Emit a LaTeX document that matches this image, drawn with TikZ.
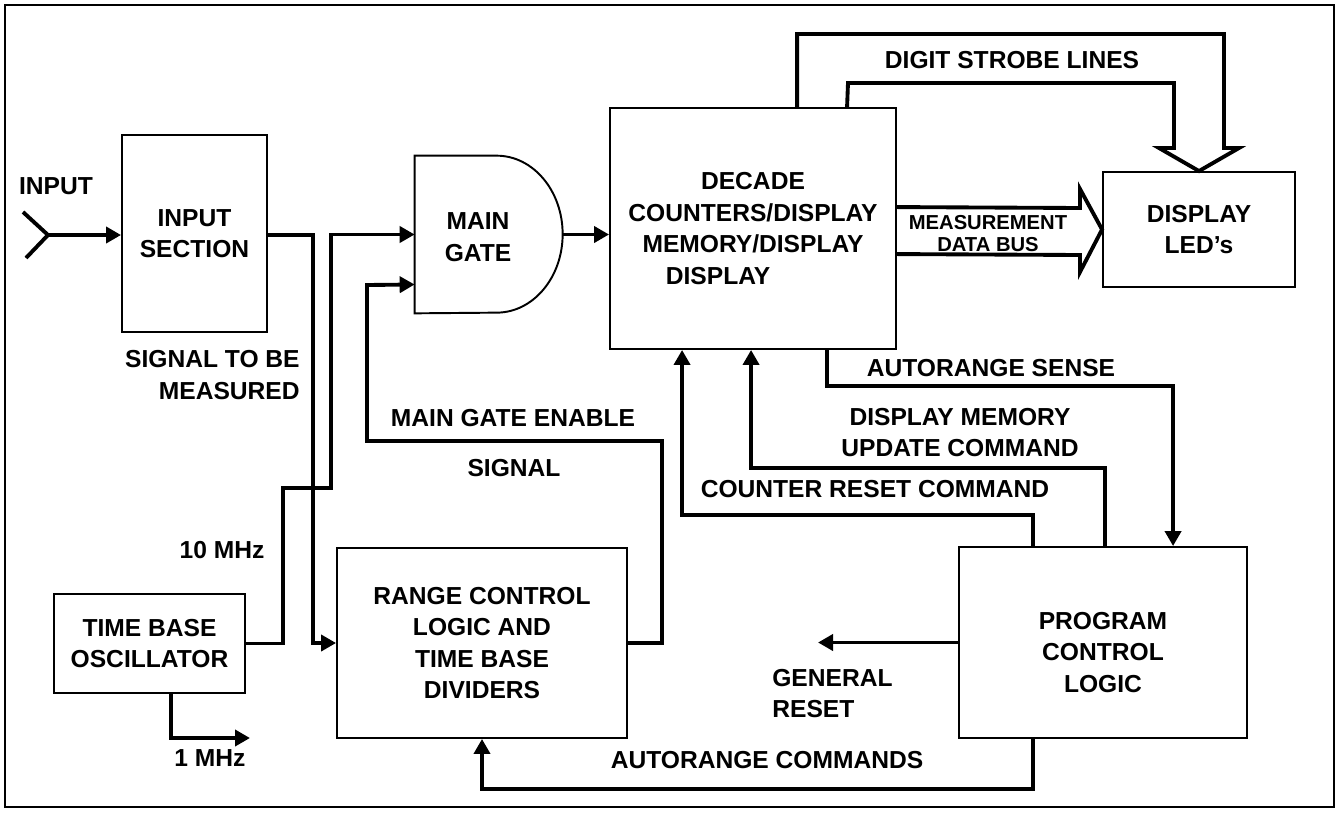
\documentclass[tikz,border=0pt]{standalone}
\usepackage{fontspec}
\setmainfont{Liberation Sans}
\usetikzlibrary{arrows.meta, positioning, calc}

\begin{document}
\begin{tikzpicture}[x=0.02cm, y=-0.02cm, >={Triangle[length=3mm, width=3.2mm]},
    font=\fontsize{14}{18}\selectfont\bfseries,
    block/.style={draw, line width=1.1pt, align=center, inner sep=0pt},
    sig/.style={line width=2.2pt},
    lbl/.style={align=center, inner sep=0pt}]
    \useasboundingbox (0,0) rectangle (1339,812);
    \draw [line width=1.5pt] (5,5) rectangle (1334,807);

    \node (insec) at (194.5,233.5) [block, minimum width=2.9cm, minimum height=3.94cm] {INPUT\\SECTION};
    \node (gate) at (489,234.5) [minimum width=2.96cm, minimum height=3.14cm, inner sep=0pt] {};
    \node (gatetxt) at (478,237) [lbl] {MAIN\\GATE};
    \node (dec) at (753,228.5) [block, minimum width=5.72cm, minimum height=4.82cm] {DECADE\\COUNTERS/DISPLAY\\MEMORY/DISPLAY\\DISPLAY\rule{1.4cm}{0pt}};
    \node (disp) at (1199,229.5) [block, minimum width=3.84cm, minimum height=2.3cm] {DISPLAY\\LED's};
    \node (osc) at (149.5,643.5) [block, minimum width=3.82cm, minimum height=1.98cm] {TIME BASE\\OSCILLATOR};
    \node (rng) at (482,643) [block, minimum width=5.8cm, minimum height=3.8cm] {RANGE CONTROL\\LOGIC AND\\TIME BASE\\DIVIDERS};
    \node (prog) at (1103,642.5) [block, minimum width=5.76cm, minimum height=3.82cm] {\rule{0pt}{21pt}PROGRAM\\CONTROL\\LOGIC};

    \draw [line width=1.1pt] (gate.south west) -- (gate.north west) -- ++(82,0)
        arc [start angle=90, end angle=-90, x radius=1.32cm, y radius=1.57cm] -- cycle;

    \node (inlbl) at (56,186) [lbl] {INPUT};
    \node (strobe) at (1012,60) [lbl] {DIGIT STROBE LINES};
    \node (sigm) at (300,375) [lbl, anchor=east, align=right] {SIGNAL TO BE\\MEASURED};
    \node (tenm) at (222,550) [lbl] {10 MHz};
    \node (onem) at (210,758) [lbl] {1 MHz};
    \node (enbl) at (513,418) [lbl] {MAIN GATE ENABLE};
    \node (enbl2) at (514,468) [lbl] {SIGNAL};
    \node (asl) at (991,368) [lbl] {AUTORANGE SENSE};
    \node (dml) at (960,432.5) [lbl] {DISPLAY MEMORY\\UPDATE COMMAND};
    \node (crl) at (875,489) [lbl] {COUNTER RESET COMMAND};
    \node (grl) at (772,693.5) [lbl, anchor=west, align=left] {GENERAL\\RESET};
    \node (acl) at (767,760) [lbl] {AUTORANGE COMMANDS};
    \node (busl) at (988,233.5) [lbl, font=\fontsize{11.5}{13}\selectfont\bfseries] {MEASUREMENT\\DATA BUS};

    \coordinate (inpt) at (48,235);
    \coordinate (gin2) at ($(gate.west)+(0,50)$);
    \coordinate (greset) at (818,642.5);
    \coordinate (onemhz) at (250,738);

    \draw [sig] (23,212) -- (inpt) -- (26,258);
    \draw [sig, ->] (inpt) -- (inpt -| insec.west);
    \draw [sig, ->] (insec.east |- inpt) -| (313,643) -- (rng.west);
    \draw [sig, ->] (osc.east) -| (283,488) -- (331,488) |- (gate.west);
    \draw [sig, ->] (rng.east) -| (662,441) -| (367,285) -- (gin2);
    \draw [sig, ->] (gate.east) -- (gate.east -| dec.west);
    \draw [sig, ->] ($(osc.south west)+(118,0)$) |- (onemhz);

    \draw [sig] ($(dec.north east)+(0,100)$) -- (1080,208) -- (1080,189) -- (disp.west)
        -- (1080,272) -- (1080,255) -- ($(dec.north east)+(0,147)$);
    \draw [sig] ($(dec.north west)+(188,0)$) |- (1224,34) -- (1224,148) -- (1239,148) -- (disp.north)
        -- (1159,148) -- (1174,148) |- (848,83) -- ($(dec.north west)+(238,0)$);

    \draw [sig, ->] ($(dec.south west)+(218,0)$) |- ($(prog.north west)+(215,-160)$) -- ($(prog.north west)+(215,0)$);
    \draw [sig, ->] ($(prog.north west)+(147,0)$) |- ($(dec.south west)+(142,118)$) -- ($(dec.south west)+(142,0)$);
    \draw [sig, ->] ($(prog.north west)+(75,0)$) |- ($(dec.south west)+(73,165)$) -- ($(dec.south west)+(73,0)$);
    \draw [sig, ->] ($(prog.south west)+(75,0)$) |- ($(rng.south)+(0,50)$) -- (rng.south);
    \draw [sig, ->] (prog.west) -- (greset);
\end{tikzpicture}
\end{document}
